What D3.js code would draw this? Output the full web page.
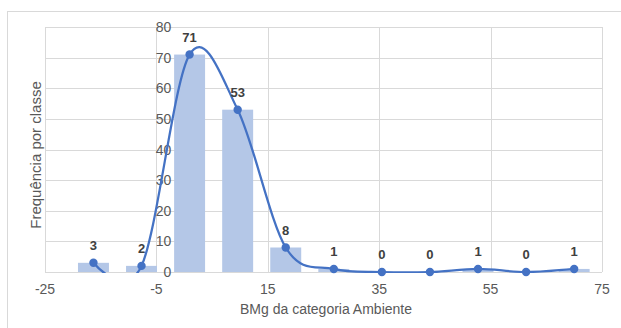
<!DOCTYPE html>
<html><head><meta charset="utf-8">
<script src="https://cdn.jsdelivr.net/npm/d3@7"></script>
<style>
html,body{margin:0;padding:0;background:#fff;}
text{font-family:"Liberation Sans", Arial, sans-serif;}
</style></head>
<body>
<svg id="c" width="621" height="328"></svg>
<script>
const binCenters = [-16.3, -7.67, 0.96, 9.59, 18.22, 26.85, 35.48, 44.11, 52.74, 61.37, 70.0];
const counts = [3, 2, 71, 53, 8, 1, 0, 0, 1, 0, 1];
const xTicks = [-25, -5, 15, 35, 55, 75];
const yTicks = [0, 10, 20, 30, 40, 50, 60, 70, 80];
const xTitle = "BMg da categoria Ambiente";
const yTitle = "Frequência por classe";

const svg = d3.select("#c");
const W = 621, H = 328;
const plot = {left: 45, right: 602, top: 27, bottom: 272};
const x = d3.scaleLinear().domain([-25, 75]).range([plot.left, plot.right]);
const y = d3.scaleLinear().domain([0, 80]).range([plot.bottom, plot.top]);
const grid = "#d9d9d9";

// outer chart border (top and left visible)
svg.append("rect").attr("x", 7.5).attr("y", 11.5).attr("width", 700).attr("height", 400)
  .attr("fill", "none").attr("stroke", grid).attr("stroke-width", 1);

// horizontal gridlines
svg.append("g").selectAll("line").data(yTicks).join("line")
  .attr("x1", plot.left).attr("x2", plot.right)
  .attr("y1", d => Math.round(y(d)) + 0.5).attr("y2", d => Math.round(y(d)) + 0.5)
  .attr("stroke", grid).attr("stroke-width", 1);
// vertical gridlines
svg.append("g").selectAll("line").data(xTicks).join("line")
  .attr("y1", plot.top).attr("y2", plot.bottom)
  .attr("x1", d => Math.round(x(d)) + 0.5).attr("x2", d => Math.round(x(d)) + 0.5)
  .attr("stroke", grid).attr("stroke-width", 1);

// bars
const halfW = 2.78;
svg.append("g").selectAll("rect").data(counts).join("rect")
  .attr("x", (d, i) => x(binCenters[i] - halfW))
  .attr("width", (d, i) => x(binCenters[i] + halfW) - x(binCenters[i] - halfW))
  .attr("y", d => y(d))
  .attr("height", d => y(0) - y(d))
  .attr("fill", "#b4c7e7");

// x tick labels
svg.append("g").selectAll("text").data(xTicks).join("text")
  .attr("x", d => x(d)).attr("y", 294)
  .attr("text-anchor", "middle").attr("font-size", 14).attr("fill", "#595959")
  .text(d => d);
// y tick labels
svg.append("g").selectAll("text").data(yTicks).join("text")
  .attr("x", x(-5) + 15).attr("y", d => y(d)).attr("dy", "0.36em")
  .attr("text-anchor", "end").attr("font-size", 14).attr("fill", "#595959")
  .text(d => d);

// smooth line
svg.append("defs").append("clipPath").attr("id", "pc").append("rect")
  .attr("x", 0).attr("y", plot.top - 5).attr("width", W).attr("height", plot.bottom - plot.top + 6);
const pts = counts.map((d, i) => [x(binCenters[i]), y(d)]);
svg.append("path").datum(pts)
  .attr("d", d3.line().curve(d3.curveCardinal.tension(0)))
  .attr("fill", "none").attr("stroke", "#4472c4").attr("stroke-width", 2.25)
  .attr("clip-path", "url(#pc)");
svg.append("g").selectAll("circle").data(pts).join("circle")
  .attr("cx", d => d[0]).attr("cy", d => d[1]).attr("r", 4.2).attr("fill", "#4472c4");

// data labels
svg.append("g").selectAll("text").data(counts).join("text")
  .attr("x", (d, i) => x(binCenters[i])).attr("y", d => y(d) - 13)
  .attr("text-anchor", "middle").attr("font-size", 13).attr("font-weight", "bold")
  .attr("fill", "#404040").text(d => d);

// axis titles
svg.append("text").attr("x", 326).attr("y", 314)
  .attr("text-anchor", "middle").attr("font-size", 14).attr("fill", "#595959").text(xTitle);
svg.append("text").attr("transform", "translate(41,155) rotate(-90)")
  .attr("text-anchor", "middle").attr("font-size", 15).attr("fill", "#595959").text(yTitle);
</script>
</body></html>
